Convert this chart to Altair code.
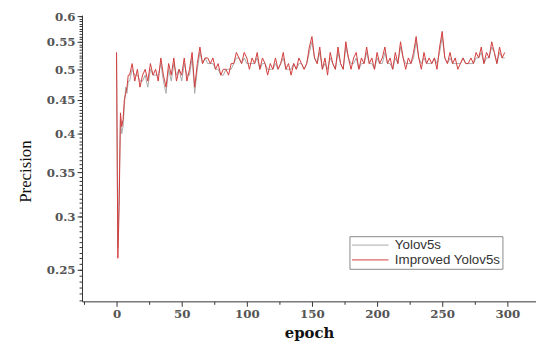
import altair as alt
import pandas as pd

epochs = list(range(0, 10)) + list(range(10, 300, 2))

improved = [0.53, 0.26, 0.31, 0.43, 0.41, 0.42, 0.45, 0.46, 0.47, 0.49,
    0.49, 0.51, 0.48, 0.50, 0.47, 0.49, 0.50, 0.48, 0.51, 0.49,
    0.50, 0.48, 0.52, 0.49, 0.47, 0.51, 0.49, 0.52, 0.48, 0.50,
    0.49, 0.52, 0.48, 0.50, 0.53, 0.47, 0.51, 0.54, 0.51, 0.52,
    0.52, 0.51, 0.52, 0.50, 0.51, 0.49, 0.50, 0.50, 0.49, 0.51,
    0.51, 0.53, 0.52, 0.51, 0.53, 0.52, 0.50, 0.52, 0.51, 0.53,
    0.50, 0.52, 0.51, 0.49, 0.51, 0.50, 0.52, 0.50, 0.51, 0.53,
    0.50, 0.51, 0.49, 0.51, 0.50, 0.52, 0.51, 0.50, 0.51, 0.54,
    0.56, 0.52, 0.51, 0.54, 0.50, 0.52, 0.49, 0.53, 0.51, 0.50,
    0.54, 0.51, 0.50, 0.55, 0.52, 0.50, 0.52, 0.53, 0.50, 0.52,
    0.51, 0.54, 0.51, 0.52, 0.50, 0.53, 0.51, 0.52, 0.54, 0.51,
    0.52, 0.50, 0.53, 0.51, 0.55, 0.52, 0.50, 0.52, 0.51, 0.53,
    0.56, 0.52, 0.50, 0.53, 0.51, 0.52, 0.51, 0.52, 0.50, 0.54,
    0.57, 0.52, 0.51, 0.53, 0.51, 0.52, 0.50, 0.51, 0.52, 0.51,
    0.51, 0.52, 0.51, 0.53, 0.52, 0.54, 0.51, 0.53, 0.52, 0.55,
    0.53, 0.51, 0.54, 0.52, 0.53]

baseline = [0.53, 0.27, 0.33, 0.42, 0.40, 0.41, 0.44, 0.47, 0.46, 0.48,
    0.48, 0.50, 0.49, 0.49, 0.48, 0.48, 0.49, 0.47, 0.50, 0.49,
    0.49, 0.49, 0.51, 0.48, 0.46, 0.50, 0.48, 0.51, 0.49, 0.50,
    0.48, 0.51, 0.49, 0.49, 0.52, 0.46, 0.50, 0.53, 0.51, 0.52,
    0.51, 0.51, 0.51, 0.50, 0.50, 0.49, 0.49, 0.50, 0.50, 0.50,
    0.51, 0.52, 0.52, 0.51, 0.52, 0.51, 0.51, 0.51, 0.51, 0.52,
    0.50, 0.51, 0.51, 0.50, 0.50, 0.50, 0.51, 0.50, 0.51, 0.52,
    0.50, 0.50, 0.50, 0.51, 0.50, 0.51, 0.51, 0.50, 0.51, 0.53,
    0.55, 0.52, 0.51, 0.53, 0.50, 0.51, 0.50, 0.52, 0.51, 0.50,
    0.53, 0.51, 0.50, 0.54, 0.52, 0.51, 0.51, 0.52, 0.50, 0.51,
    0.51, 0.53, 0.51, 0.51, 0.50, 0.52, 0.51, 0.51, 0.53, 0.51,
    0.51, 0.50, 0.52, 0.51, 0.54, 0.52, 0.51, 0.51, 0.51, 0.52,
    0.55, 0.52, 0.51, 0.52, 0.51, 0.51, 0.51, 0.52, 0.51, 0.53,
    0.56, 0.52, 0.51, 0.52, 0.51, 0.51, 0.51, 0.51, 0.52, 0.51,
    0.51, 0.51, 0.51, 0.52, 0.52, 0.53, 0.51, 0.52, 0.52, 0.54,
    0.53, 0.51, 0.53, 0.52, 0.52]

series_names = ["Yolov5s", "Improved Yolov5s"]
series_colors = ["#a9a9a9", "#d23c3c"]

y_major = [0.25, 0.3, 0.35, 0.4, 0.45, 0.5, 0.55, 0.6]
y_minor = [round(0.225 + 0.005 * i, 3) for i in range(76)]
x_major = [0, 50, 100, 150, 200, 250, 300]
x_minor = [-25, 25, 75, 125, 175, 225, 275]

df = pd.DataFrame({
    "epoch": epochs * 2,
    "precision": baseline + improved,
    "series": [series_names[0]] * len(epochs) + [series_names[1]] * len(epochs),
})

xscale = alt.Scale(domain=[-26.5, 322], nice=False, zero=False)
yscale = alt.Scale(type="log", domain=[0.224, 0.603], nice=False, zero=False)
cscale = alt.Scale(domain=series_names, range=series_colors)

legend = alt.Legend(title=None, orient="none", legendX=271, legendY=224,
                    symbolType="M-1,0H4.7", symbolSize=169, symbolStrokeWidth=1,
                    labelOffset=30, labelFont="Liberation Sans", labelFontSize=13.5,
                    labelColor="#333", strokeColor="#888", padding=2, rowPadding=1,
                    fillColor="white")

gray = alt.Chart(df).transform_filter(alt.datum.series == series_names[0]).mark_line(strokeWidth=1).encode(
    x=alt.X("epoch:Q", scale=xscale,
            axis=alt.Axis(orient="bottom", values=x_minor, labels=False, title=None,
                          domain=False, grid=False, tickSize=3)),
    y=alt.Y("precision:Q", scale=yscale,
            axis=alt.Axis(orient="left", values=y_minor, labels=False, title=None,
                          domain=False, grid=False, tickSize=3)),
    color=alt.Color("series:N", scale=cscale, legend=legend),
)

red = alt.Chart(df).transform_filter(alt.datum.series == series_names[1]).mark_line(strokeWidth=1).encode(
    x=alt.X("epoch:Q", scale=xscale,
            axis=alt.Axis(orient="bottom", values=x_major, title="epoch", grid=False, tickSize=5,
                          titleFont="DejaVu Serif", titleFontWeight="bold", titleFontSize=15,
                          titlePadding=7)),
    y=alt.Y("precision:Q", scale=yscale,
            axis=alt.Axis(orient="left", values=y_major, format=".2~f", title="Precision",
                          grid=False, tickSize=5, titleFont="Liberation Serif",
                          titleFontWeight="normal", titleFontSize=17, titlePadding=12,
                          titleY=158)),
    color=alt.Color("series:N", scale=cscale, legend=legend),
)

chart = alt.layer(gray, red).resolve_axis(x="independent", y="independent").properties(
    width=460, height=290, autosize=alt.AutoSizeParams(type="none"),
    padding={"left": 75, "top": 5, "right": 0, "bottom": 44},
).configure_view(stroke=None).configure_axis(
    domainColor="#333", tickColor="#333", labelColor="#555",
    labelFont="DejaVu Serif", labelFontWeight="bold", labelFontSize=12,
    titleColor="#111",
)

chart.save("out.html", embed_options={"renderer": "svg", "actions": False})
